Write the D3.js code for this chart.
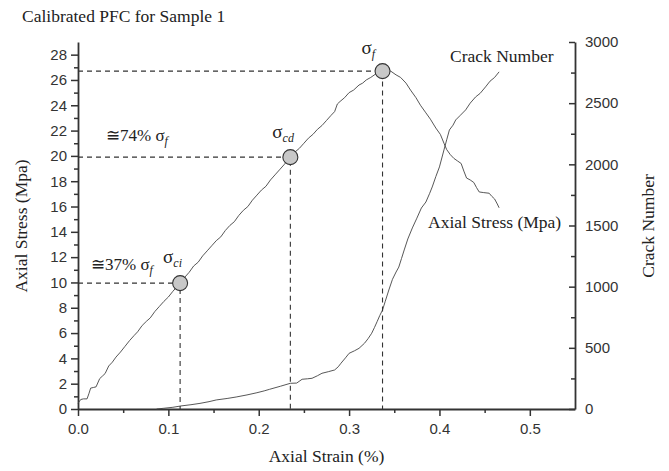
<!DOCTYPE html>
<html>
<head>
<meta charset="utf-8">
<script src="https://cdn.jsdelivr.net/npm/d3@7"></script>
<style>
  body { margin: 0; background: #fff; }
  svg { display: block; }
  .tick text { font-family: "Liberation Sans", Arial, sans-serif; font-size: 15px; fill: #333; }
  .serif { font-family: "Liberation Serif", "Times New Roman", serif; fill: #222; }
</style>
</head>
<body>
<div class="chart-container"></div>
<script>
// axial stress curve: [strain %, stress Mpa]
var stressStrain = [
  [0.000, 0.45], [0.003, 0.75], [0.006, 0.8], [0.010, 0.8], [0.012, 1.2], [0.014, 1.65], [0.017, 1.7],
  [0.020, 1.75], [0.024, 2.4], [0.027, 2.6], [0.030, 2.8], [0.034, 3.4], [0.038, 3.7], [0.042, 4.1],
  [0.047, 4.5], [0.052, 4.95], [0.057, 5.4], [0.062, 5.8], [0.066, 6.1], [0.071, 6.6], [0.076, 6.95],
  [0.080, 7.2], [0.085, 7.7], [0.090, 8.1], [0.095, 8.5], [0.100, 8.85], [0.105, 9.3], [0.110, 9.7],
  [0.113, 9.95], [0.118, 10.4], [0.123, 10.8], [0.128, 11.3], [0.133, 11.6], [0.138, 12.1], [0.143, 12.5],
  [0.148, 12.9], [0.153, 13.3], [0.158, 13.6], [0.163, 14.1], [0.168, 14.5], [0.173, 14.8], [0.178, 15.3],
  [0.183, 15.7], [0.188, 16.0], [0.193, 16.5], [0.198, 16.9], [0.203, 17.3], [0.208, 17.6], [0.213, 18.1],
  [0.218, 18.5], [0.223, 18.9], [0.228, 19.3], [0.235, 19.9], [0.240, 20.3], [0.245, 20.6], [0.250, 21.0],
  [0.255, 21.4], [0.260, 21.7], [0.265, 22.1], [0.270, 22.4], [0.275, 22.8], [0.280, 23.2], [0.284, 23.5],
  [0.287, 24.1], [0.290, 24.3], [0.295, 24.6], [0.300, 25.0], [0.305, 25.2], [0.311, 25.6], [0.315, 25.75],
  [0.319, 26.0], [0.324, 26.2], [0.330, 26.5], [0.334, 26.6], [0.337, 26.7], [0.341, 26.55], [0.346, 26.7],
  [0.352, 26.4], [0.357, 26.2], [0.363, 25.75], [0.368, 25.2], [0.374, 24.6], [0.379, 24.0], [0.385, 23.4],
  [0.390, 22.9], [0.396, 22.2], [0.401, 21.7], [0.405, 21.0], [0.408, 20.5], [0.412, 20.1], [0.416, 19.8],
  [0.420, 19.6], [0.424, 19.4], [0.427, 18.8], [0.430, 18.25], [0.434, 18.1], [0.438, 17.9], [0.441, 17.5],
  [0.444, 17.15], [0.449, 17.1], [0.455, 17.05], [0.458, 16.8], [0.461, 16.6], [0.464, 16.2], [0.466, 15.9]
];

// crack number curve: [strain %, cracks]
var crackStrain = [
  [0.087, 0], [0.095, 6], [0.105, 14], [0.114, 25], [0.125, 35], [0.135, 46], [0.145, 60], [0.153, 74],
  [0.165, 86], [0.175, 98], [0.187, 115], [0.198, 133], [0.206, 148], [0.212, 161], [0.224, 186],
  [0.235, 210], [0.242, 212], [0.248, 243], [0.254, 247], [0.259, 251], [0.265, 272], [0.270, 292],
  [0.277, 305], [0.284, 319], [0.288, 345], [0.291, 374], [0.296, 418], [0.300, 455], [0.306, 476],
  [0.311, 496], [0.317, 537], [0.321, 575], [0.325, 619], [0.328, 665], [0.331, 714], [0.334, 765],
  [0.337, 809], [0.340, 880], [0.344, 973], [0.348, 1060], [0.352, 1120], [0.355, 1160], [0.358, 1230],
  [0.361, 1300], [0.365, 1390], [0.370, 1480], [0.375, 1560], [0.380, 1643], [0.385, 1692], [0.389, 1760],
  [0.392, 1815], [0.396, 1900], [0.400, 1979], [0.405, 2118], [0.408, 2200], [0.411, 2281], [0.415, 2320],
  [0.418, 2363], [0.423, 2400], [0.429, 2445], [0.434, 2500], [0.440, 2551], [0.445, 2580], [0.451, 2633],
  [0.456, 2680], [0.461, 2710], [0.466, 2756]
];

// characteristic stress points
var keyPoints = [
  { name: 'ci', x: 0.113, y: 9.95, pct: '\u224537%' },
  { name: 'cd', x: 0.235, y: 19.9, pct: '\u224574%' },
  { name: 'f',  x: 0.337, y: 26.7, pct: null }
];

var xTicks = [0, 0.1, 0.2, 0.3, 0.4, 0.5];
var yTicks = [0, 2, 4, 6, 8, 10, 12, 14, 16, 18, 20, 22, 24, 26, 28];
var y2Ticks = [0, 500, 1000, 1500, 2000, 2500, 3000];

var width = 669, height = 471;
var margin = {top: 42, right: 94, bottom: 62, left: 78};

var svg = d3.select('.chart-container').append('svg')
    .attr('width', width)
    .attr('height', height);

var x = d3.scaleLinear().domain([0, 0.55]).range([margin.left, width - margin.right]);
var y = d3.scaleLinear().domain([0, 29]).range([height - margin.bottom, margin.top]);
var y2 = d3.scaleLinear().domain([0, 3000]).range([height - margin.bottom, margin.top]);

var ink = '#333';

function styleTicks(g) {
  g.select('.domain').remove();
  g.selectAll('line').attr('stroke', ink).attr('stroke-width', 1.5);
}

// minor ticks first
svg.append('g')
    .attr('transform', 'translate(0,' + (height - margin.bottom) + ')')
    .call(d3.axisBottom(x).tickValues(d3.range(0.05, 0.55, 0.1)).tickSize(4).tickFormat(''))
    .call(styleTicks);
svg.append('g')
    .attr('transform', 'translate(' + margin.left + ',0)')
    .call(d3.axisLeft(y).tickValues(d3.range(1, 29, 2)).tickSize(4).tickFormat(''))
    .call(styleTicks);
svg.append('g')
    .attr('transform', 'translate(' + (width - margin.right) + ',0)')
    .call(d3.axisLeft(y2).tickValues(d3.range(250, 3000, 500)).tickSize(4).tickFormat(''))
    .call(styleTicks);

// major axes
svg.append('g')
    .attr('class', 'x axis')
    .attr('transform', 'translate(0,' + (height - margin.bottom) + ')')
    .call(d3.axisBottom(x).tickValues(xTicks).tickFormat(d3.format('.1f')).tickSize(7).tickSizeOuter(0).tickPadding(7))
    .call(function (g) {
      g.select('.domain').attr('stroke', ink).attr('stroke-width', 2.2);
      g.selectAll('line').attr('stroke', ink).attr('stroke-width', 1.5);
    });

svg.append('g')
    .attr('class', 'y axis')
    .attr('transform', 'translate(' + margin.left + ',0)')
    .call(d3.axisLeft(y).tickValues(yTicks).tickSize(7).tickSizeOuter(0).tickPadding(4))
    .call(function (g) {
      g.select('.domain').attr('stroke', ink).attr('stroke-width', 1.8);
      g.selectAll('line').attr('stroke', ink).attr('stroke-width', 1.5);
    });

svg.append('g')
    .attr('class', 'y2 axis')
    .attr('transform', 'translate(' + (width - margin.right) + ',0)')
    .call(d3.axisLeft(y2).tickValues(y2Ticks).tickFormat(d3.format('d')).tickSize(6).tickSizeOuter(0))
    .call(function (g) {
      g.select('.domain').attr('stroke', ink).attr('stroke-width', 1.8);
      g.selectAll('line').attr('stroke', ink).attr('stroke-width', 1.5);
      g.selectAll('text').attr('x', 10).attr('text-anchor', 'start');
    });

// curves
var line = d3.line()
    .x(function (d) { return x(d[0]); })
    .y(function (d) { return y(d[1]); });
var line2 = d3.line()
    .x(function (d) { return x(d[0]); })
    .y(function (d) { return y2(d[1]); });

svg.append('path').datum(stressStrain)
    .attr('d', line).attr('fill', 'none').attr('stroke', '#444').attr('stroke-width', 0.9);
svg.append('path').datum(crackStrain)
    .attr('d', line2).attr('fill', 'none').attr('stroke', '#444').attr('stroke-width', 0.9);

// dashed guides
keyPoints.forEach(function (p) {
  svg.append('path')
      .attr('d', 'M' + x(0) + ',' + y(p.y) + 'H' + x(p.x) + 'V' + y(0))
      .attr('fill', 'none').attr('stroke', ink).attr('stroke-width', 1.1)
      .attr('stroke-dasharray', '5,4');
});

svg.selectAll('.kp').data(keyPoints).enter().append('circle')
    .attr('class', 'kp')
    .attr('cx', function (d) { return x(d.x); })
    .attr('cy', function (d) { return y(d.y); })
    .attr('r', 7.5)
    .attr('fill', '#c8c8c8').attr('stroke', ink).attr('stroke-width', 1.1);

// sigma labels
function sigma(px, py, sub) {
  var t = svg.append('text').attr('class', 'serif').attr('x', px).attr('y', py).style('font-size', '19px');
  t.append('tspan').text('\u03c3');
  t.append('tspan').attr('dy', 4).style('font-size', '12px').style('font-style', 'italic').text(sub);
}
sigma(x(0.113) - 17, y(9.95) - 20, 'ci');
sigma(x(0.235) - 18, y(19.9) - 19, 'cd');
sigma(x(0.337) - 21, y(26.7) - 17, 'f');

// percentage labels
function pctLabel(px, py, pct) {
  var t = svg.append('text').attr('class', 'serif').attr('x', px).attr('y', py).style('font-size', '17px');
  t.append('tspan').text(pct + ' \u03c3');
  t.append('tspan').attr('dy', 4).style('font-size', '12px').style('font-style', 'italic').text('f');
}
pctLabel(91, y(9.95) - 13, keyPoints[0].pct);
pctLabel(106, y(19.9) - 16, keyPoints[1].pct);

// curve labels
svg.append('text').attr('class', 'serif').attr('x', 450).attr('y', 62)
    .style('font-size', '17.5px').text('Crack Number');
svg.append('text').attr('class', 'serif').attr('x', 428).attr('y', 228)
    .style('font-size', '17.5px').text('Axial Stress (Mpa)');

// titles
svg.append('text').attr('class', 'serif').attr('x', 22).attr('y', 22)
    .style('font-size', '17.5px').text('Calibrated PFC for Sample 1');
svg.append('text').attr('class', 'serif')
    .attr('transform', 'translate(' + 27 + ',' + 226 + ') rotate(-90)')
    .attr('text-anchor', 'middle').style('font-size', '17.5px').text('Axial Stress (Mpa)');
svg.append('text').attr('class', 'serif')
    .attr('transform', 'translate(' + 654 + ',' + 226 + ') rotate(-90)')
    .attr('text-anchor', 'middle').style('font-size', '17.5px').text('Crack Number');
svg.append('text').attr('class', 'serif')
    .attr('x', (x(0) + x(0.55)) / 2).attr('y', 462)
    .attr('text-anchor', 'middle').style('font-size', '17.5px').text('Axial Strain (%)');
</script>
</body>
</html>
